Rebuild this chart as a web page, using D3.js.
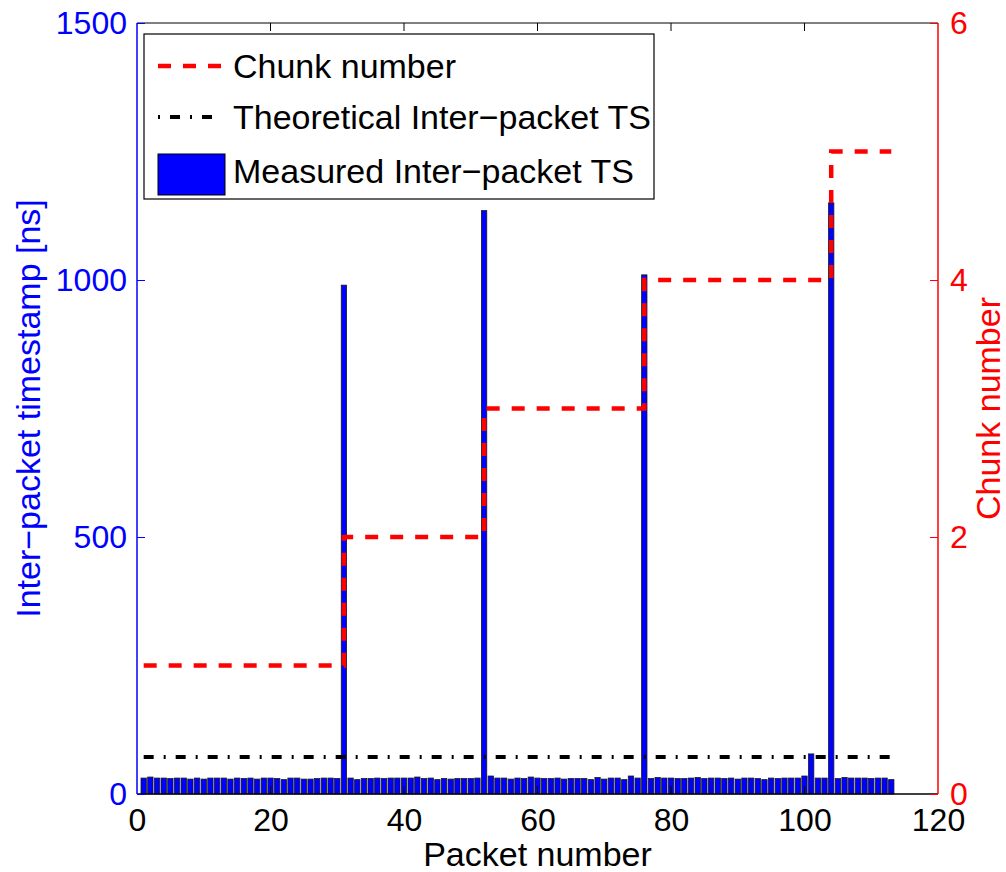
<!DOCTYPE html>
<html><head><meta charset="utf-8">
<script src="https://cdn.jsdelivr.net/npm/d3@7"></script>
<style>
body{margin:0;background:#fff;}
text{font-family:"Liberation Sans",Arial,Helvetica,sans-serif;}
</style></head>
<body>
<svg id="chart" width="1006" height="872"></svg>
<script>
// ---- data ----
const measuredTS = [
 31,33,31,31,30,31,31,29,31,29, 31,31,31,29,31,30,31,29,31,31,
 30,28,31,31,29,29,30,31,31,30,990,31,28,30,30,31,30,31,31,31,
 31,33,30,31,28,30,29,30,30,30,31,1135,35,31,31,29,31,30,33,31,
 30,30,31,29,30,30,30,28,32,29,31,31,28,35,31,1010,30,32,31,31,
 30,30,31,32,30,31,31,30,31,29,31,31,30,28,31,30,31,31,31,35,
 78,31,31,1150,30,32,31,31,31,30,31,31,28
];
const packets = measuredTS.map((d,i)=>i+1);
const theoreticalTS = 72;
const chunkStarts = [1,31,52,76,104];   // first packet of each chunk
const chunkValues = [1,2,3,4,5];
const xTicks = [0,20,40,60,80,100,120];
const yLeftTicks = [0,500,1000,1500];
const yRightTicks = [0,2,4,6];
const legendLabels = ["Chunk number","Theoretical Inter\u2212packet TS","Measured Inter\u2212packet TS"];

// chunk number per packet
const chunkOf = p => { let c = chunkValues[0]; chunkStarts.forEach((s,i)=>{ if(p>=s) c=chunkValues[i]; }); return c; };

// ---- layout ----
const svg = d3.select("#chart");
const L=137, R=938, T=23, B=794;
const x = d3.scaleLinear().domain([0,120]).range([L,R]);
const yL = d3.scaleLinear().domain([0,1500]).range([B,T]);
const yR = d3.scaleLinear().domain([0,6]).range([B,T]);
const tickLen = 8;

// bars
const bw = (x(1)-x(0))*0.8;
svg.append("g").selectAll("rect").data(measuredTS).enter().append("rect")
  .attr("x",(d,i)=>x(packets[i])-bw/2)
  .attr("y",d=>yL(d))
  .attr("width",bw)
  .attr("height",d=>B-yL(d))
  .attr("fill","#0000ff")
  .attr("stroke","#1a1a1a")
  .attr("stroke-width",0.8);

// theoretical line
svg.append("line")
  .attr("x1",x(packets[0])).attr("x2",x(packets[packets.length-1]))
  .attr("y1",yL(theoreticalTS)).attr("y2",yL(theoreticalTS))
  .attr("stroke","#000").attr("stroke-width",4)
  .attr("stroke-dasharray","10,10,2,10");

// chunk stairs
const chunkPts = packets.map(p=>[p,chunkOf(p)]);
const stair = d3.line().x(d=>x(d[0])).y(d=>yR(d[1])).curve(d3.curveStepAfter);
svg.append("path").attr("d",stair(chunkPts))
  .attr("fill","none").attr("stroke","#ff0000").attr("stroke-width",4.5)
  .attr("stroke-dasharray","13,12");

// axes frame
const blue="#0000ff", red="#ff0000";
svg.append("line").attr("x1",L).attr("x2",R).attr("y1",T).attr("y2",T).attr("stroke","#000").attr("stroke-width",1);
svg.append("line").attr("x1",L).attr("x2",R).attr("y1",B).attr("y2",B).attr("stroke","#000").attr("stroke-width",1.5);
svg.append("line").attr("x1",L).attr("x2",L).attr("y1",T).attr("y2",B).attr("stroke",blue).attr("stroke-width",1.5);
svg.append("line").attr("x1",R).attr("x2",R).attr("y1",T).attr("y2",B).attr("stroke",red).attr("stroke-width",1.5);

// x axis (bottom ticks inward + labels), top ticks inward
const xAxisB = d3.axisBottom(x).tickValues(xTicks).tickSize(0).tickPadding(14);
const gxb = svg.append("g").attr("transform",`translate(0,${B})`).call(xAxisB);
gxb.select(".domain").remove();
gxb.selectAll("text").attr("font-size",32).attr("fill","#000").attr("font-family","Liberation Sans, Arial, sans-serif");
svg.append("g").selectAll("line").data(xTicks.slice(1,-1)).enter().append("line")
  .attr("x1",d=>x(d)).attr("x2",d=>x(d)).attr("y1",B).attr("y2",B-tickLen).attr("stroke","#000").attr("stroke-width",1);
svg.append("g").selectAll("line").data(xTicks.slice(1,-1)).enter().append("line")
  .attr("x1",d=>x(d)).attr("x2",d=>x(d)).attr("y1",T).attr("y2",T+tickLen).attr("stroke","#000").attr("stroke-width",1);

// left axis
const gyl = svg.append("g").attr("transform",`translate(${L},0)`).call(d3.axisLeft(yL).tickValues(yLeftTicks).tickSize(-tickLen).tickPadding(10).tickFormat(d3.format("d")));
gyl.select(".domain").remove();
gyl.selectAll("line").attr("stroke",blue);
gyl.selectAll("text").attr("font-size",32).attr("fill",blue).attr("font-family","Liberation Sans, Arial, sans-serif");

// right axis
const gyr = svg.append("g").attr("transform",`translate(${R},0)`).call(d3.axisRight(yR).tickValues(yRightTicks).tickSize(-tickLen).tickPadding(12).tickFormat(d3.format("d")));
gyr.select(".domain").remove();
gyr.selectAll("line").attr("stroke",red);
gyr.selectAll("text").attr("font-size",32).attr("fill",red).attr("font-family","Liberation Sans, Arial, sans-serif");

// axis titles
svg.append("text").attr("x",(L+R)/2).attr("y",866).attr("text-anchor","middle")
  .attr("font-size",34).attr("fill","#000").text("Packet number");
svg.append("text").attr("transform",`translate(40,${(T+B)/2}) rotate(-90)`).attr("text-anchor","middle")
  .attr("font-size",34).attr("fill",blue).text("Inter\u2212packet timestamp [ns]");
svg.append("text").attr("transform",`translate(1000,${(T+B)/2}) rotate(-90)`).attr("text-anchor","middle")
  .attr("font-size",34).attr("fill",red).text("Chunk number");

// legend
const lg = svg.append("g");
lg.append("rect").attr("x",144).attr("y",34).attr("width",510).attr("height",165)
  .attr("fill","#fff").attr("stroke","#000").attr("stroke-width",1.2);
const rowsY = [66,117,171];
lg.append("line").attr("x1",158).attr("x2",222).attr("y1",rowsY[0]).attr("y2",rowsY[0])
  .attr("stroke",red).attr("stroke-width",4.5).attr("stroke-dasharray","13,12");
lg.append("line").attr("x1",158).attr("x2",222).attr("y1",rowsY[1]).attr("y2",rowsY[1])
  .attr("stroke","#000").attr("stroke-width",4).attr("stroke-dasharray","2,10,10,10");
lg.append("rect").attr("x",158).attr("y",154).attr("width",67).attr("height",41)
  .attr("fill",blue).attr("stroke","#000").attr("stroke-width",1);
lg.selectAll("text.lab").data(legendLabels).enter().append("text")
  .attr("x",233).attr("y",(d,i)=>rowsY[i]+12).attr("font-size",34).attr("fill","#000").text(d=>d);
</script>
</body></html>
